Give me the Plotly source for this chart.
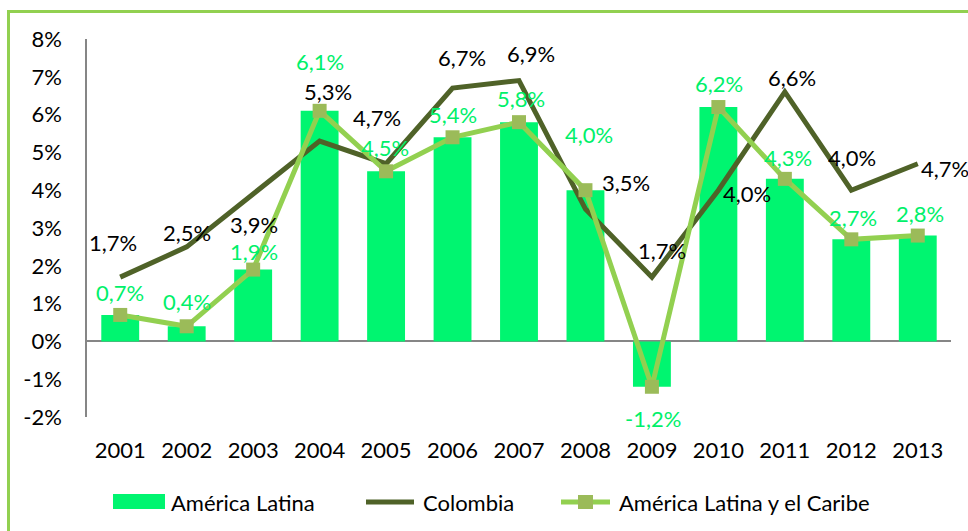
import plotly.graph_objects as go

# ---- data ----
years = ["2001", "2002", "2003", "2004", "2005", "2006", "2007",
         "2008", "2009", "2010", "2011", "2012", "2013"]
america_latina = [0.7, 0.4, 1.9, 6.1, 4.5, 5.4, 5.8, 4.0, -1.2, 6.2, 4.3, 2.7, 2.8]
colombia = [1.7, 2.5, 3.9, 5.3, 4.7, 6.7, 6.9, 3.5, 1.7, 4.0, 6.6, 4.0, 4.7]
al_caribe = [0.7, 0.4, 1.9, 6.1, 4.5, 5.4, 5.8, 4.0, -1.2, 6.2, 4.3, 2.7, 2.8]
y_ticks = [-2, -1, 0, 1, 2, 3, 4, 5, 6, 7, 8]
y_tick_labels = ["-2%", "-1%", "0%", "1%", "2%", "3%", "4%", "5%", "6%", "7%", "8%"]
legend_names = ["América Latina", "Colombia", "América Latina y el Caribe"]

# ---- styles ----
FONT = "Lato"
FS = 22
BAR_C = "#00F570"
LABEL_G = "#00F06A"
DARK = "#4F6228"
LIGHT = "#92D050"
MARK = "#9BBB59"
AXIS_C = "#868686"

W, H = 968, 531
ML, MR, MT, MB = 87, 17, 39, 114
PW, PH = W - ML - MR, H - MT - MB

# label offsets (px) relative to their points
col_dx = [-7, 0, 1, 8, -9, 9, 12, 41, 10, 29, 7, 1, 27]
col_dy = [35, 14, -31, 50, 46, 31, 27, 27, 27, -3, 14, 33, -5]
alc_dx = [0, 0, 1, 0, -1, 0, 2, 4, 1, 1, 3, 2, 2]
alc_dy = [22, 25, 18, 49, 24, 23, 24, 56, -32, 24, 21, 22, 22]


def fmt(v):
    return f"{v:.1f}".replace(".", ",") + "%"


def px(x):
    return (x - ML) / PW


def py(y):
    return (H - MB - y) / PH


fig = go.Figure()
fig.add_trace(go.Bar(x=years, y=america_latina, name=legend_names[0],
                     marker=dict(color=BAR_C, line=dict(width=0)), width=0.57))
fig.add_trace(go.Scatter(x=years, y=colombia, name=legend_names[1], mode="lines",
                         line=dict(color=DARK, width=5)))
fig.add_trace(go.Scatter(x=years, y=al_caribe, name=legend_names[2], mode="lines+markers",
                         line=dict(color=LIGHT, width=5),
                         marker=dict(symbol="square", size=14, color=MARK)))

annotations = []
for i in range(len(years)):
    annotations.append(dict(x=i, y=colombia[i], text=fmt(colombia[i]), showarrow=False,
                            xshift=col_dx[i], yshift=col_dy[i],
                            font=dict(family=FONT, size=FS, color="#000000")))
    annotations.append(dict(x=i, y=al_caribe[i], text=fmt(al_caribe[i]), showarrow=False,
                            xshift=alc_dx[i], yshift=alc_dy[i],
                            font=dict(family=FONT, size=FS, color=LABEL_G)))

# manual legend
leg_y = 502
annotations += [
    dict(xref="paper", yref="paper", x=px(169), y=py(leg_y), xanchor="left", yanchor="middle",
         text=legend_names[0], showarrow=False, font=dict(family=FONT, size=FS, color="#000")),
    dict(xref="paper", yref="paper", x=px(421), y=py(leg_y), xanchor="left", yanchor="middle",
         text=legend_names[1], showarrow=False, font=dict(family=FONT, size=FS, color="#000")),
    dict(xref="paper", yref="paper", x=px(617), y=py(leg_y), xanchor="left", yanchor="middle",
         text=legend_names[2], showarrow=False, font=dict(family=FONT, size=FS, color="#000")),
]

shapes = [
    # outer border
    dict(type="rect", xref="paper", yref="paper", x0=px(8.5), y0=py(11.5), x1=px(1200), y1=py(900),
         line=dict(color=LIGHT, width=3), fillcolor="rgba(0,0,0,0)", layer="below"),
    # legend swatches
    dict(type="rect", xref="paper", yref="paper", x0=px(113), x1=px(165), y0=py(509), y1=py(494),
         fillcolor=BAR_C, line=dict(width=0)),
    dict(type="line", xref="paper", yref="paper", x0=px(366), x1=px(414), y0=py(leg_y), y1=py(leg_y),
         line=dict(color=DARK, width=5)),
    dict(type="line", xref="paper", yref="paper", x0=px(561), x1=px(610), y0=py(leg_y), y1=py(leg_y),
         line=dict(color=LIGHT, width=5)),
    dict(type="rect", xref="paper", yref="paper", x0=px(578), x1=px(593), y0=py(509), y1=py(495),
         fillcolor=MARK, line=dict(width=0)),
]

fig.update_layout(
    width=W, height=H,
    margin=dict(l=ML, r=MR, t=MT, b=MB, pad=0),
    paper_bgcolor="white", plot_bgcolor="white",
    showlegend=False,
    font=dict(family=FONT, size=FS, color="#000"),
    annotations=annotations, shapes=shapes,
    bargap=0.43,
)
fig.update_xaxes(type="category", range=[-0.5, 12.5], showline=False, showgrid=False,
                 zeroline=False, ticks="", tickfont=dict(family=FONT, size=FS, color="#000"),
                 ticklabelstandoff=18)
fig.update_yaxes(range=[-2, 8], tickvals=y_ticks, ticktext=y_tick_labels, showgrid=False,
                 showline=True, linecolor=AXIS_C, linewidth=1.5,
                 zeroline=True, zerolinecolor=AXIS_C, zerolinewidth=1.5,
                 ticks="", ticklabelstandoff=19,
                 tickfont=dict(family=FONT, size=FS, color="#000"))

fig.write_html("out.html", config={"displayModeBar": False},
               post_script="document.body.style.margin='0';document.body.style.overflow='hidden';")
